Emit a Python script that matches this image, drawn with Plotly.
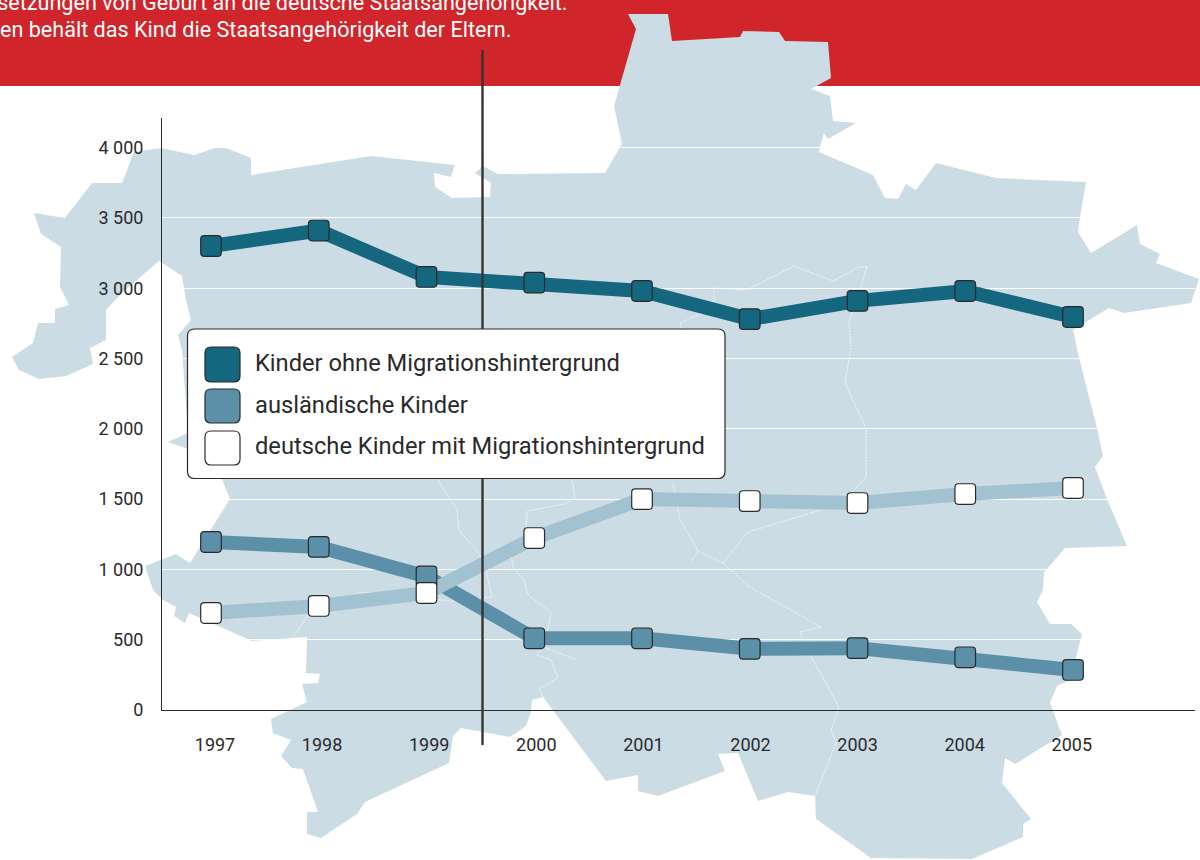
import plotly.graph_objects as go

W, H = 1200, 860

# ---- data ----
years = [1997, 1998, 1999, 2000, 2001, 2002, 2003, 2004, 2005]
kinder_ohne = [3300, 3410, 3080, 3040, 2980, 2780, 2910, 2980, 2795]
auslaendische = [1195, 1160, 950, 510, 510, 435, 440, 375, 285]
deutsche_mit = [690, 740, 832, 1223, 1500, 1486, 1472, 1536, 1579]
y_ticks = [0, 500, 1000, 1500, 2000, 2500, 3000, 3500, 4000]
y_labels = ["0", "500", "1 000", "1 500", "2 000", "2 500", "3 000", "3 500", "4 000"]
x_labels = [str(y) for y in years]
legend_names = ["Kinder ohne Migrationshintergrund", "ausländische Kinder",
                "deutsche Kinder mit Migrationshintergrund"]
intro_lines = ["ssetzungen von Geburt an die deutsche Staatsangehörigkeit.",
               "en behält das Kind die Staatsangehörigkeit der Eltern."]

# ---- styles ----
FONT = "Roboto, sans-serif"
C_RED = "#d0252b"
C_MAP = "#ccdce5"
C_DARK = "#15667f"
C_MID = "#5c90a9"
C_LIGHT = "#a2c2d2"
C_INK = "#2a2a2a"

# decorative backdrop map, traced in page pixels
map_outline = [
    (12,357),(33,343),(38,323),(55,323),(55,309),(69,305),(60,287),(61,247),(41,234),(34,213),(65,218),
    (92,183),(122,183),(134,152),(161,148),(194,155),(218,147),(226,148),(251,158),(251,175),(371,156),
    (455,165),(451,177),(434,173),(435,187),(452,198),(490,197),(491,183),(475,173),(483,166),(498,174),
    (605,173),(620,147),(622,144),(614,106),(636,29),(628,14),(668,14),(672,41),(740,37),(743,31),(779,32),
    (785,41),(828,42),(831,78),(811,89),(830,96),(833,121),(856,123),(828,139),(824,133),(820,147),(819,152),
    (873,175),(885,198),(898,199),(906,184),(916,190),(936,163),(996,178),(1086,182),(1080,217),(1078,232),
    (1091,253),(1137,225),(1140,244),(1160,254),(1156,263),(1199,279),(1191,303),(1124,313),(1109,308),
    (1086,322),(1073,330),(1079,358),(1097,428),(1103,456),(1095,467),(1107,499),(1127,546),(1065,548),
    (1047,569),(1044,572),(1043,590),(1037,602),(1050,624),(1071,624),(1082,634),(1076,657),(1070,680),
    (1057,686),(1050,703),(1062,735),(1015,764),(1005,758),(1002,783),(1031,819),(1023,824),(1023,837),
    (972,859),(871,858),(816,819),(815,796),(788,792),(758,801),(738,753),(718,754),(725,771),(658,796),
    (638,791),(638,775),(606,781),(543,697),(532,700),(531,712),(526,726),(510,737),(461,728),(453,736),
    (449,763),(365,802),(357,814),(321,838),(307,834),(307,812),(318,812),(303,769),(292,768),(281,756),
    (291,740),(273,733),(271,719),(307,702),(302,684),(318,683),(320,674),(306,673),(307,637),(252,641),
    (189,613),(185,623),(174,616),(176,607),(163,600),(153,590),(145,566),(176,554),(190,563),(230,499),
    (222,479),(188,449),(168,442),(188,433),(182,350),(178,335),(191,320),(186,300),(182,276),(159,261),
    (122,293),(106,310),(106,340),(90,348),(93,364),(66,376),(39,379),(19,370),
]
map_borders = [
    [(867,267),(860,290),(849,322),(851,347),(845,383),(866,428),(866,477),(851,493),(821,510),(748,532),
     (723,563),(748,586),(821,627),(800,632),(804,642),(813,660),(839,707),(831,730),(836,743),(815,796)],
    [(867,267),(859,267),(833,281),(794,266),(747,290),(714,288),(714,300),(703,313),(680,323),(682,330)],
    [(673,483),(680,520),(698,551),(723,563)],
    [(698,551),(691,562)],
    [(438,480),(457,510),(459,530),(480,555),(486,570),(492,597),(452,601),(360,592),(333,612)],
    [(572,480),(575,498),(564,504),(527,511),(526,535),(511,553),(513,567),(524,580),(528,595),(551,612),
     (546,639),(537,655),(551,660),(558,678),(539,689),(543,697)],
    [(546,648),(577,660)],
    [(309,614),(291,640)],
]


def fx(x):
    return x / W


def fy(y):
    return 1 - y / H


def page_path(points, close=True):
    body = " L ".join(f"{fx(x):.5f} {fy(y):.5f}" for x, y in points)
    return "M " + body + (" Z" if close else "")


def rounded_path(x0, y0, x1, y1, r, mapx=lambda v: v, mapy=lambda v: v):
    p = lambda x, y: f"{mapx(x):.5f} {mapy(y):.5f}"
    return (f"M {p(x0 + r, y0)} L {p(x1 - r, y0)} Q {p(x1, y0)} {p(x1, y0 + r)} "
            f"L {p(x1, y1 - r)} Q {p(x1, y1)} {p(x1 - r, y1)} "
            f"L {p(x0 + r, y1)} Q {p(x0, y1)} {p(x0, y1 - r)} "
            f"L {p(x0, y0 + r)} Q {p(x0, y0)} {p(x0 + r, y0)} Z")


shapes = [
    dict(type="rect", xref="paper", yref="paper", x0=0, x1=1, y0=fy(86), y1=1,
         fillcolor=C_RED, line_width=0, layer="below"),
    dict(type="path", xref="paper", yref="paper", path=page_path(map_outline),
         fillcolor=C_MAP, line_width=0, layer="below"),
]
for b in map_borders:
    shapes.append(dict(type="path", xref="paper", yref="paper", path=page_path(b, close=False),
                       line=dict(color="white", width=0.7, dash="2px,1px"), layer="below"))

# reform marker line
shapes.append(dict(type="line", xref="paper", yref="paper", x0=fx(482.5), x1=fx(482.5),
                   y0=fy(50), y1=fy(745), line=dict(color="#333333", width=2.4), layer="above"))

# rounded point markers anchored on the data
SERIES = [(kinder_ohne, C_DARK), (auslaendische, C_MID), (deutsche_mit, "#ffffff")]
marker_path = rounded_path(-10.3, -10.3, 10.3, 10.3, 3.5)
for vals, col in SERIES:
    for yr, v in zip(years, vals):
        shapes.append(dict(type="path", xref="x", yref="y", xsizemode="pixel", ysizemode="pixel",
                           xanchor=yr, yanchor=v, path=marker_path, fillcolor=col,
                           line=dict(color=C_INK, width=1.2), layer="above"))

# legend panel
shapes.append(dict(type="path", xref="paper", yref="paper",
                   path=rounded_path(187.5, 329, 725, 478.5, 7, fx, fy),
                   fillcolor="white", line=dict(color=C_INK, width=1.2), layer="above"))
for (y0, y1), col in zip([(347, 382), (389, 423), (431, 465)], [C_DARK, C_MID, "#ffffff"]):
    shapes.append(dict(type="path", xref="paper", yref="paper",
                       path=rounded_path(205, y0, 240, y1, 6, fx, fy),
                       fillcolor=col, line=dict(color=C_INK, width=1.2), layer="above"))

annotations = []
for name, yc in zip(legend_names, [363, 405, 446]):
    annotations.append(dict(text=name, xref="paper", yref="paper", x=fx(253), y=fy(yc),
                            xanchor="left", yanchor="middle", showarrow=False,
                            font=dict(family=FONT, size=23.7, color=C_INK)))
for line, xr, yc in zip(intro_lines, [570, 513], [2, 30]):
    annotations.append(dict(text=line, xref="paper", yref="paper", x=fx(xr), y=fy(yc),
                            xanchor="right", yanchor="middle", showarrow=False,
                            font=dict(family=FONT, size=21.6, color="white")))

fig = go.Figure()
for name, vals, col, mcol in zip(legend_names, [kinder_ohne, auslaendische, deutsche_mit],
                                 [C_DARK, C_MID, C_LIGHT], [C_DARK, C_MID, "#ffffff"]):
    fig.add_trace(go.Scatter(x=years, y=vals, name=name, mode="lines+markers",
                             line=dict(color=col, width=14),
                             marker=dict(symbol="square", size=17, color=mcol)))

# pixels per year of the x axis, and where the year labels sit relative to it
X_LEFT, X_RIGHT = 162, 1195
PX_1997, PX_PER_YEAR = 211, 107.75
LABEL_1997, LABEL_STEP = 215, 107.1
x_range = [1997 + (X_LEFT - PX_1997) / PX_PER_YEAR, 1997 + (X_RIGHT - PX_1997) / PX_PER_YEAR]
tick_positions = [1997 + (LABEL_1997 + i * LABEL_STEP - PX_1997) / PX_PER_YEAR for i in range(len(years))]

fig.update_layout(
    autosize=False, width=W, height=H, margin=dict(l=0, r=0, t=0, b=0, pad=0),
    paper_bgcolor="white", plot_bgcolor="rgba(0,0,0,0)",
    showlegend=False, shapes=shapes, annotations=annotations,
    font=dict(family=FONT, size=18, color=C_INK),
    xaxis=dict(domain=[fx(X_LEFT), fx(X_RIGHT)], range=x_range, tickmode="array", automargin=False,
               tickvals=tick_positions, ticktext=x_labels, showgrid=False, zeroline=False,
               showline=True, linecolor=C_INK, linewidth=1.2, ticks="", ticklabelstandoff=18),
    yaxis=dict(domain=[fy(710), fy(118)], range=[0, (710 - 118) / 70.3 * 500], tickmode="array",
               automargin=False, tickvals=y_ticks, ticktext=y_labels, showgrid=True, gridcolor="white",
               gridwidth=1.3, zeroline=False, showline=True, linecolor=C_INK, linewidth=1, ticks="",
               ticklabelstandoff=14),
)
fig.write_html("out.html", config={"displayModeBar": False},
               post_script="document.documentElement.style.margin='0';document.body.style.margin='0';")
